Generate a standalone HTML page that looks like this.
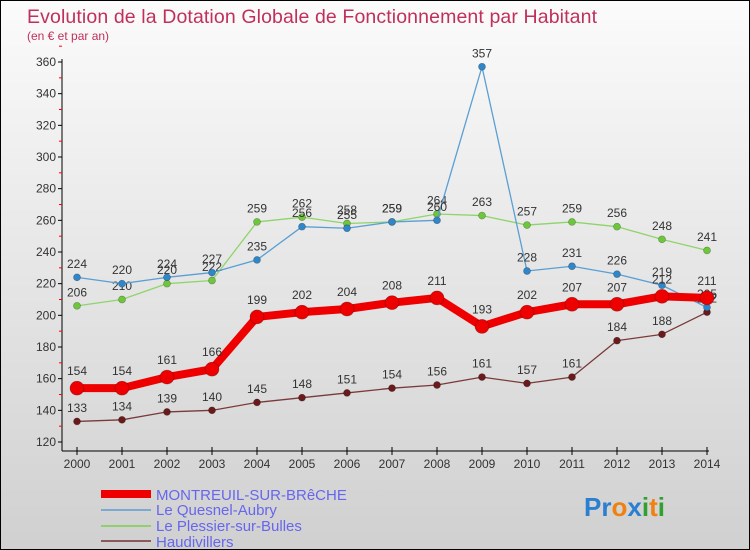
<!DOCTYPE html>
<html><head><meta charset="utf-8"><style>
body{margin:0;}
#c{width:750px;height:550px;position:relative;overflow:hidden;box-sizing:border-box;border:1px solid #000;background:linear-gradient(#fbfbfb,#d0d0d0);font-family:"Liberation Sans",sans-serif;}
svg text{font-family:"Liberation Sans",sans-serif;}
</style></head><body>
<div id="c">
<svg id="s" width="750" height="550">
<text x="26" y="22" font-size="19.5" fill="#c0305a" textLength="570">Evolution de la Dotation Globale de Fonctionnement par Habitant</text>
<text x="26" y="39" font-size="12" fill="#c0305a">(en € et par an)</text>
<line x1="61" y1="58" x2="61" y2="450" stroke="#000"/>
<line x1="61" y1="450" x2="708" y2="450" stroke="#000"/>
<g id="ax"></g><g id="series"></g>
<g font-size="15" fill="#6666ee">
<line x1="100" y1="493" x2="150" y2="493" stroke="#e00" stroke-width="8"/>
<text x="155" y="499">MONTREUIL-SUR-BRêCHE</text>
<line x1="100" y1="509" x2="150" y2="509" stroke="#7aaad0" stroke-width="2"/>
<text x="155" y="514">Le Quesnel-Aubry</text>
<line x1="100" y1="525" x2="150" y2="525" stroke="#90d070" stroke-width="2"/>
<text x="155" y="530">Le Plessier-sur-Bulles</text>
<line x1="100" y1="540" x2="150" y2="540" stroke="#8a5a5a" stroke-width="2"/>
<text x="155" y="546">Haudivillers</text>
</g>
<text x="583" y="515" font-size="26" font-weight="bold"><tspan fill="#2a7fd0">Pr</tspan><tspan fill="#f08010">o</tspan><tspan fill="#2a7fd0">x</tspan><tspan fill="#30a030">i</tspan><tspan fill="#f08010">t</tspan><tspan fill="#30a030">i</tspan></text>
</svg></div>
<script>
const years=["2000","2001","2002","2003","2004","2005","2006","2007","2008","2009","2010","2011","2012","2013","2014"];
const yTicks=[120,140,160,180,200,220,240,260,280,300,320,340,360];
const montreuil=[154,154,161,166,199,202,204,208,211,193,202,207,207,212,211];
const quesnel=[224,220,224,227,235,256,255,259,260,357,228,231,226,219,205];
const plessier=[206,210,220,222,259,262,258,259,264,263,257,259,256,248,241];
const haudivillers=[133,134,139,140,145,148,151,154,156,161,157,161,184,188,202];
const NS="http://www.w3.org/2000/svg";
const X=i=>76+i*(706-76)/14;
const Y=v=>441-(v-120)*380/240;
function mk(t,a,p){const e=document.createElementNS(NS,t);for(const k in a)e.setAttribute(k,a[k]);p.appendChild(e);return e;}
const ax=document.getElementById('ax');
yTicks.forEach(v=>{
 const l=mk('line',{x1:57,x2:61,y1:Y(v),y2:Y(v),stroke:'#000'},ax);
 
 
 const m=mk('line',{x1:58,x2:61,y1:Y(v+10),y2:Y(v+10),stroke:'#f00'},ax);
 
 
 const t=mk('text',{x:55,y:Y(v)+4,'font-size':12,'text-anchor':'end',fill:'#333'},ax);t.textContent=v;
 
 
});
years.forEach((y,i)=>{
 const l=mk('line',{x1:X(i),x2:X(i),y1:446,y2:454,stroke:'#000'},ax);
 
 
 const t=mk('text',{x:X(i),y:467,'font-size':12,'text-anchor':'middle',fill:'#333'},ax);t.textContent=y;
 
 
});
const sg=document.getElementById('series');
function draw(name,data,color,dot,w,r){
 const g=mk('g',{},sg);
 
 
 const p=mk('polyline',{points:data.map((v,i)=>X(i)+','+Y(v)).join(' '),fill:'none',stroke:color,'stroke-width':w,'stroke-linejoin':'round'},g);
 
 
 data.forEach((v,i)=>{
  const c=mk('circle',{cx:X(i),cy:Y(v),r:r,fill:dot,stroke:'rgba(0,0,0,0.3)','stroke-width':0.7},g);
  
  
  const t=mk('text',{x:X(i),y:Y(v)-r-6,'font-size':12,'text-anchor':'middle',fill:'#333'},g);t.textContent=v;
  
  
 });
}
draw('haudivillers',haudivillers,'#7a3a3a','#6a1a1a',1.3,3.5);
draw('plessier',plessier,'#8fd46a','#6cc83a',1.3,3.5);
draw('quesnel',quesnel,'#5a9fd4','#2f86c8',1.3,3.5);
draw('montreuil',montreuil,'#ee0000','#ee0000',8,7);
</script>
</body></html>
